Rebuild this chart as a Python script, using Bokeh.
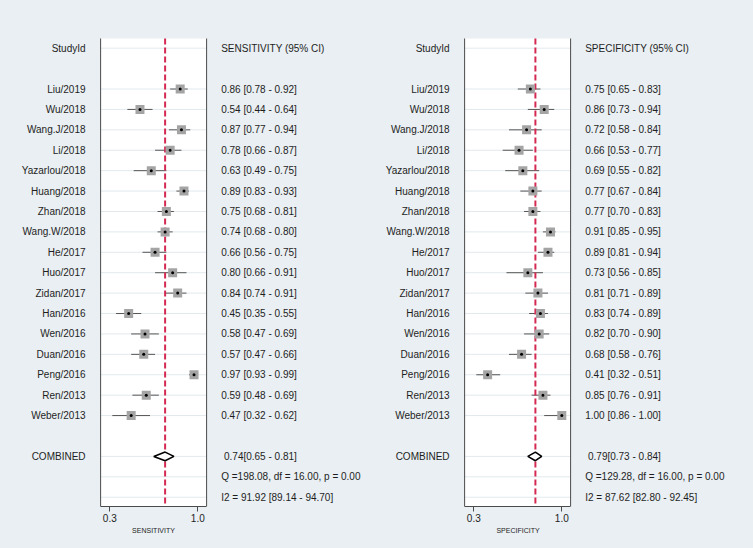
from bokeh.plotting import figure
from bokeh.layouts import row
from bokeh.models import Range1d, FixedTicker, PrintfTickFormatter, Title
from bokeh.core.properties import value
from bokeh.embed import file_html
from bokeh.resources import INLINE

# ---------------- data ----------------
studies = ["Liu/2019", "Wu/2018", "Wang.J/2018", "Li/2018", "Yazarlou/2018", "Huang/2018",
           "Zhan/2018", "Wang.W/2018", "He/2017", "Huo/2017", "Zidan/2017", "Han/2016",
           "Wen/2016", "Duan/2016", "Peng/2016", "Ren/2013", "Weber/2013"]

sens_est = [0.86, 0.54, 0.87, 0.78, 0.63, 0.89, 0.75, 0.74, 0.66, 0.80, 0.84, 0.45, 0.58, 0.57, 0.97, 0.59, 0.47]
sens_lo = [0.78, 0.44, 0.77, 0.66, 0.49, 0.83, 0.68, 0.68, 0.56, 0.66, 0.74, 0.35, 0.47, 0.47, 0.93, 0.48, 0.32]
sens_hi = [0.92, 0.64, 0.94, 0.87, 0.75, 0.93, 0.81, 0.80, 0.75, 0.91, 0.91, 0.55, 0.69, 0.66, 0.99, 0.69, 0.62]

spec_est = [0.75, 0.86, 0.72, 0.66, 0.69, 0.77, 0.77, 0.91, 0.89, 0.73, 0.81, 0.83, 0.82, 0.68, 0.41, 0.85, 1.00]
spec_lo = [0.65, 0.73, 0.58, 0.53, 0.55, 0.67, 0.70, 0.85, 0.81, 0.56, 0.71, 0.74, 0.70, 0.58, 0.32, 0.76, 0.86]
spec_hi = [0.83, 0.94, 0.84, 0.77, 0.82, 0.84, 0.83, 0.95, 0.94, 0.85, 0.89, 0.89, 0.90, 0.76, 0.51, 0.91, 1.00]

sens_combined = [0.74, 0.65, 0.81]
spec_combined = [0.79, 0.73, 0.84]

sens_q = "Q =198.08, df = 16.00, p =  0.00"
sens_i2 = "I2 = 91.92 [89.14 - 94.70]"
spec_q = "Q =129.28, df = 16.00, p =  0.00"
spec_i2 = "I2 = 87.62 [82.80 - 92.45]"

x_ticks = [0.3, 1.0]

# ---------------- style ----------------
BG = "#e9eff2"
FONT = value("Liberation Sans")
TXT = "#1e1e1e"
RED = "#d42a52"
PX = 125.71           # pixels per unit on the x scale
AREA_L, AREA_R = 0.227, 1.07
AREA_T, AREA_B = -0.475, 22.455


def panel(metric, est, lo, hi, comb, q_text, i2_text, width, tick_px, title_offset):
    x0 = 0.3 - tick_px / PX
    p = figure(width=width, height=548, x_range=Range1d(x0, x0 + width / PX),
               y_range=Range1d(AREA_B, -2.337), output_backend="svg",
               toolbar_location=None, y_axis_location=None,
               min_border_left=0, min_border_right=0, min_border_top=0,
               min_border_bottom=42, background_fill_color=BG,
               border_fill_color=BG, outline_line_color=None)
    p.xgrid.visible = False
    p.ygrid.visible = False

    n = len(est)
    ys = [2 + i for i in range(n)]
    y_comb = ys[-1] + 2
    y_q = y_comb + 1
    y_i2 = y_comb + 2

    # plot area
    p.quad(left=[AREA_L], right=[AREA_R], top=[AREA_T], bottom=[AREA_B],
           fill_color="white", line_color=None)
    grid_rows = [0] + ys + [y_comb, y_q, y_i2]
    p.segment(x0=[AREA_L] * len(grid_rows), x1=[AREA_R] * len(grid_rows),
              y0=grid_rows, y1=grid_rows, line_color="#e2e9ed", line_width=1)
    p.segment(x0=[AREA_L, AREA_R], x1=[AREA_L, AREA_R], y0=[AREA_T, AREA_T],
              y1=[AREA_B, AREA_B], line_color="#4a4a4a", line_width=1)

    # CIs
    p.segment(x0=lo, x1=hi, y0=ys, y1=ys, line_color="#555555", line_width=1)
    # pooled line
    p.segment(x0=[comb[0]], x1=[comb[0]], y0=[AREA_T], y1=[AREA_B],
              line_color=RED, line_width=2, line_dash="6 3")
    # study markers
    p.scatter(est, ys, marker="square", size=9, fill_color="#a4a4a4", line_color=None)
    p.scatter(est, ys, marker="circle", size=3, fill_color="black", line_color=None)
    # diamond
    p.patch([comb[1], comb[0], comb[2], comb[0]],
            [y_comb, y_comb - 0.21, y_comb, y_comb + 0.21],
            fill_color="white", line_color="black", line_width=1.6)

    # left texts
    names = ["StudyId"] + studies + ["COMBINED"]
    name_y = [0] + ys + [y_comb]
    p.text(x=[0.107] * len(names), y=name_y, text=names, text_align="right",
           text_baseline="middle", text_font=FONT, text_font_size="10px", text_color=TXT)

    # right texts
    right = ["%s (95%% CI)" % metric] + ["%.2f [%.2f - %.2f]" % (e, l, h) for e, l, h in zip(est, lo, hi)]
    right += [q_text, i2_text]
    right_y = [0] + ys + [y_q, y_i2]
    p.text(x=[1.186] * len(right), y=right_y, text=right, text_align="left",
           text_baseline="middle", text_font=FONT, text_font_size="10px", text_color=TXT)
    p.text(x=[1.186], y=[y_comb], text=["%.2f[%.2f - %.2f]" % tuple(comb)], x_offset=2.8,
           text_align="left", text_baseline="middle", text_font=FONT,
           text_font_size="10px", text_color=TXT)

    # axis
    ax = p.xaxis[0]
    ax.ticker = FixedTicker(ticks=x_ticks)
    ax.formatter = PrintfTickFormatter(format="%.1f")
    ax.bounds = (AREA_L, AREA_R)
    ax.axis_line_color = "#4a4a4a"
    ax.major_tick_line_color = "#4a4a4a"
    ax.major_tick_out = 5
    ax.major_tick_in = 0
    ax.minor_tick_line_color = None
    ax.major_label_standoff = 2
    ax.major_label_text_font = "Liberation Sans"
    ax.major_label_text_font_size = "10px"
    ax.major_label_text_color = TXT

    p.add_layout(Title(text=metric, align="left", offset=title_offset,
                       text_font="Liberation Sans", text_font_size="7px",
                       text_font_style="normal", text_color=TXT, standoff=0), "below")
    return p


p1 = panel("SENSITIVITY", sens_est, sens_lo, sens_hi, sens_combined, sens_q, sens_i2,
           372, 109.3, 131.6)
p2 = panel("SPECIFICITY", spec_est, spec_lo, spec_hi, spec_combined, spec_q, spec_i2,
           381, 101.3, 123.9)
layout = row(p1, p2, spacing=0, styles={"background-color": BG})

html = file_html(layout, INLINE)
html = html.replace("</head>", "<style>html, body {background-color: %s !important;}</style></head>" % BG, 1)
open("out.html", "w").write(html)
